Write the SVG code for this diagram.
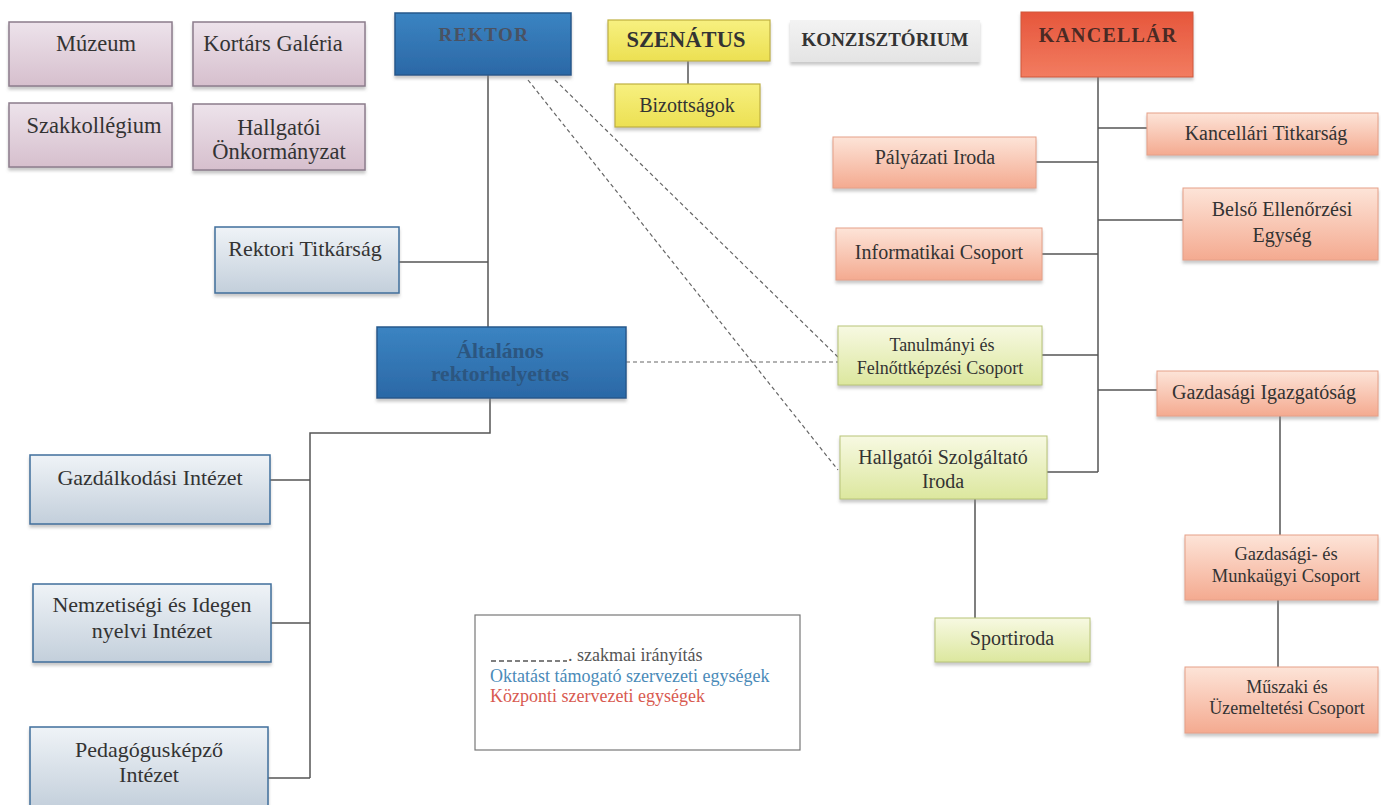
<svg xmlns="http://www.w3.org/2000/svg" width="1381" height="805" viewBox="0 0 1381 805">
<defs>
<linearGradient id="gPink" x1="0" y1="0" x2="0" y2="1"><stop offset="0" stop-color="#ede3eb"/><stop offset="1" stop-color="#d6bfcd"/></linearGradient>
<linearGradient id="gBlue" x1="0" y1="0" x2="0" y2="1"><stop offset="0" stop-color="#3b84c2"/><stop offset="1" stop-color="#2b68a6"/></linearGradient>
<linearGradient id="gYel" x1="0" y1="0" x2="0" y2="1"><stop offset="0" stop-color="#f7f080"/><stop offset="1" stop-color="#ece052"/></linearGradient>
<linearGradient id="gGray" x1="0" y1="0" x2="0" y2="1"><stop offset="0" stop-color="#f3f3f3"/><stop offset="1" stop-color="#e4e4e4"/></linearGradient>
<linearGradient id="gRed" x1="0" y1="0" x2="0" y2="1"><stop offset="0" stop-color="#e6563c"/><stop offset="1" stop-color="#f27c60"/></linearGradient>
<linearGradient id="gSal" x1="0" y1="0" x2="0" y2="1"><stop offset="0" stop-color="#fde4d8"/><stop offset="1" stop-color="#f4aa90"/></linearGradient>
<linearGradient id="gGreen" x1="0" y1="0" x2="0" y2="1"><stop offset="0" stop-color="#f7f9e2"/><stop offset="1" stop-color="#dce79e"/></linearGradient>
<linearGradient id="gLBlue" x1="0" y1="0" x2="0" y2="1"><stop offset="0" stop-color="#eff3f7"/><stop offset="1" stop-color="#c3cfdb"/></linearGradient>
<filter id="sh" x="-5%" y="-10%" width="110%" height="130%"><feDropShadow dx="0" dy="3" stdDeviation="1.5" flood-color="#888" flood-opacity="0.45"/></filter>
</defs>
<style>
text{font-family:"Liberation Serif","Times New Roman",serif;font-size:20px;fill:#333;text-anchor:middle}
.pink{fill:url(#gPink);stroke:#8c7c8c;stroke-width:1.5;filter:url(#sh)}
.blue{fill:url(#gBlue);stroke:#24588c;stroke-width:1.5;filter:url(#sh)}
.yel{fill:url(#gYel);stroke:#bfb040;stroke-width:1.2;filter:url(#sh)}
.gray{fill:url(#gGray);stroke:none;filter:url(#sh)}
.red{fill:url(#gRed);stroke:#d0583a;stroke-width:1;filter:url(#sh)}
.sal{fill:url(#gSal);stroke:#e6a088;stroke-width:1;filter:url(#sh)}
.grn{fill:url(#gGreen);stroke:#b8c478;stroke-width:1;filter:url(#sh)}
.lb{fill:url(#gLBlue);stroke:#3f6f9c;stroke-width:1.5;filter:url(#sh)}
.b{font-weight:bold}
.sm{font-size:18px}
.lt{font-size:22px}
.pk{font-size:22.5px}
.ln{stroke:#555;stroke-width:1.5;fill:none}
.ds{stroke:#666;stroke-width:1.2;stroke-dasharray:4 3;fill:none}
</style>
<rect width="1381" height="805" fill="#ffffff"/>

<g id="connectors">
<path class="ln" d="M488 75 V327 M399 262 H488"/>
<path class="ln" d="M688 61 V84"/>
<path class="ln" d="M490 398 V433 H310 V778 M270 480 H310 M271 623 H310 M268 778 H310"/>
<path class="ln" d="M1098 77 V472 M1098 128 H1147 M1036 162 H1098 M1098 220 H1183 M1042 254 H1098 M1042 355 H1098 M1098 390 H1157 M1047 472 H1098"/>
<path class="ln" d="M975 499 V618"/>
<path class="ln" d="M1280 416 V535 M1278 600 V667"/>
<path class="ds" d="M528 80 L838 470 M555 80 L838 357 M626 362 H838"/>
</g>

<g id="muzeum"><rect class="pink" x="9" y="22" width="163" height="64"/><text class="pk" x="96" y="51">Múzeum</text></g>
<g id="kortars"><rect class="pink" x="193" y="22" width="172" height="64"/><text class="pk" x="273" y="51">Kortárs Galéria</text></g>
<g id="szakkollegium"><rect class="pink" x="9" y="103" width="163" height="64"/><text class="pk" x="94" y="133">Szakkollégium</text></g>
<g id="onkormanyzat"><rect class="pink" x="193" y="104" width="172" height="66"/><text class="pk" x="279" y="135">Hallgatói</text><text class="pk" x="279" y="159">Önkormányzat</text></g>

<g id="rektor"><rect class="blue" x="395" y="13" width="176" height="62"/><text class="b" x="484" y="41" style="fill:#4a5262;font-size:19px;letter-spacing:1.5px">REKTOR</text></g>
<g id="szenatus"><rect class="yel" x="608" y="20" width="162" height="41"/><text class="b" x="686" y="47" style="font-size:22.5px">SZENÁTUS</text></g>
<g id="bizottsagok"><rect class="yel" x="615" y="84" width="145" height="43"/><text x="687" y="112">Bizottságok</text></g>
<g id="konzisztorium"><rect class="gray" x="790" y="20" width="190" height="42"/><text class="b" x="885" y="46" style="font-size:19px">KONZISZTÓRIUM</text></g>
<g id="kancellar"><rect class="red" x="1021" y="12" width="172" height="65"/><text class="b" x="1108" y="42" style="font-size:20px;letter-spacing:1.2px;fill:#4a2a24">KANCELLÁR</text></g>

<g id="kanc-titkarsag"><rect class="sal" x="1147" y="113" width="231" height="42"/><text x="1266" y="140">Kancellári Titkarság</text></g>
<g id="palyazati"><rect class="sal" x="833" y="137" width="203" height="51"/><text x="935" y="164">Pályázati Iroda</text></g>
<g id="belso"><rect class="sal" x="1183" y="188" width="195" height="72"/><text x="1282" y="216">Belső Ellenőrzési</text><text x="1282" y="242">Egység</text></g>
<g id="informatikai"><rect class="sal" x="836" y="228" width="206" height="52"/><text x="939" y="259">Informatikai Csoport</text></g>
<g id="tanulmanyi"><rect class="grn" x="838" y="326" width="204" height="59"/><text class="sm" x="942" y="351">Tanulmányi  és</text><text class="sm" x="940" y="374">Felnőttképzési Csoport</text></g>
<g id="gazd-igazgatosag"><rect class="sal" x="1157" y="371" width="221" height="45"/><text x="1264" y="399">Gazdasági Igazgatóság</text></g>
<g id="hallgatoi-szolg"><rect class="grn" x="840" y="436" width="207" height="63"/><text x="943" y="464">Hallgatói Szolgáltató</text><text x="943" y="488">Iroda</text></g>
<g id="sportiroda"><rect class="grn" x="935" y="618" width="155" height="44"/><text x="1012" y="645">Sportiroda</text></g>
<g id="gazd-munkaugyi"><rect class="sal" x="1185" y="535" width="193" height="65"/><text x="1286" y="560" style="font-size:18.5px">Gazdasági- és</text><text x="1286" y="582" style="font-size:18.5px">Munkaügyi Csoport</text></g>
<g id="muszaki"><rect class="sal" x="1185" y="667" width="193" height="66"/><text class="sm" x="1287" y="693">Műszaki és</text><text class="sm" x="1287" y="714">Üzemeltetési Csoport</text></g>

<g id="rektori-titkarsag"><rect class="lb" x="215" y="227" width="184" height="66"/><text class="lt" x="305" y="256">Rektori Titkárság</text></g>
<g id="altalanos"><rect class="blue" x="377" y="327" width="249" height="71"/><text class="b" x="500" y="358" style="fill:#2c5680;font-size:21.5px">Általános</text><text class="b" x="500" y="381" style="fill:#2c5680;font-size:21.5px">rektorhelyettes</text></g>
<g id="gazdalkodasi"><rect class="lb" x="30" y="455" width="240" height="69"/><text class="lt" x="150" y="485">Gazdálkodási Intézet</text></g>
<g id="nemzetisegi"><rect class="lb" x="33" y="584" width="238" height="78"/><text class="lt" x="152" y="612">Nemzetiségi és Idegen</text><text class="lt" x="152" y="638">nyelvi Intézet</text></g>
<g id="pedagoguskepzo"><rect class="lb" x="30" y="727" width="238" height="82"/><text class="lt" x="149" y="757">Pedagógusképző</text><text class="lt" x="149" y="782">Intézet</text></g>

<g id="legend">
<rect x="475" y="615" width="325" height="135" fill="#fff" stroke="#777" stroke-width="1.2"/>
<line x1="491" y1="661" x2="567" y2="661" stroke="#555" stroke-width="1.3" stroke-dasharray="5 3"/>
<text class="sm" x="568" y="661" style="text-anchor:start;fill:#555">. szakmai irányítás</text>
<text class="sm" x="490" y="682" style="text-anchor:start;fill:#4a8ab8">Oktatást támogató szervezeti egységek</text>
<text class="sm" x="490" y="702" style="text-anchor:start;fill:#d85a50">Központi szervezeti egységek</text>
</g>
</svg>
